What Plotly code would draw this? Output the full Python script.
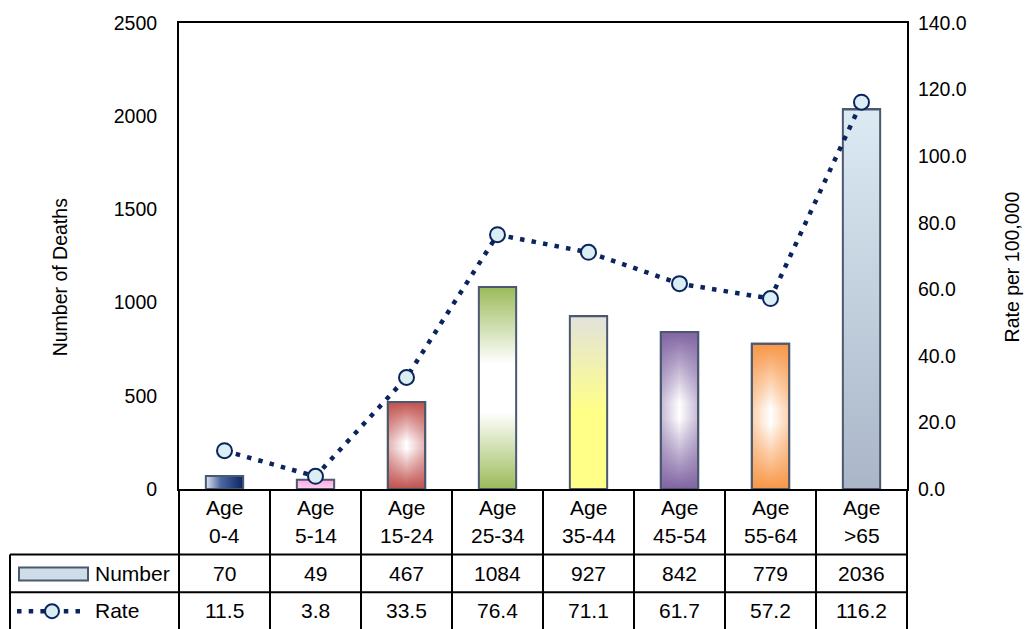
import plotly.graph_objects as go

# ---- data -------------------------------------------------------------
categories = ["Age 0-4", "Age 5-14", "Age 15-24", "Age 25-34",
              "Age 35-44", "Age 45-54", "Age 55-64", "Age >65"]
deaths = [70, 49, 467, 1084, 927, 842, 779, 2036]
rates = [11.5, 3.8, 33.5, 76.4, 71.1, 61.7, 57.2, 116.2]

left_ticks = [0, 500, 1000, 1500, 2000, 2500]
right_ticks = [0, 20, 40, 60, 80, 100, 120, 140]

# ---- styling ----------------------------------------------------------
FONT = "Liberation Sans, Arial, sans-serif"
NAVY = "#0a245e"
OUTLINE = "#4a5870"
BAR_W = 0.41
AXIS_SIZE = 19.5
TABLE_SIZE = 21


def centre_glow(rgb, white_lo=0.44, white_hi=0.56):
    """colour at the ends, white band in the middle"""
    c = "rgb(%d,%d,%d)" % rgb
    return [[0, c], [white_lo, "#ffffff"], [white_hi, "#ffffff"], [1, c]]


def side_tint(rgb, alpha=0.45):
    """translucent tint toward the left and right edges"""
    edge = "rgba(%d,%d,%d,%.2f)" % (rgb + (alpha,))
    clear = "rgba(%d,%d,%d,0)" % rgb
    return [[0, edge], [0.5, clear], [1, edge]]


RED = (192, 80, 77)
GREEN = (155, 187, 89)
PURPLE = (128, 100, 162)
ORANGE = (247, 150, 70)

# one fill per age band: (orientation, colorscale, edge tint or None, flat colour)
bar_fills = [
    ("horizontal", [[0, "#dfe5f1"], [0.4, "#4c67a0"], [1, "#0b2566"]], None, "#1f3b78"),
    ("vertical", [[0, "#ffd2f0"], [1, "#ffa8e2"]], None, "#ffbfea"),
    ("vertical", centre_glow(RED, 0.46, 0.54), side_tint(RED), "#c0504d"),
    ("vertical", centre_glow(GREEN, 0.38, 0.62), None, "#9bbb59"),
    ("vertical", [[0, "#ffff88"], [0.45, "#ffff88"], [1, "#e2e2dc"]], None, "#ffff88"),
    ("vertical", centre_glow(PURPLE, 0.45, 0.55), side_tint(PURPLE), "#8064a2"),
    ("vertical", centre_glow(ORANGE, 0.45, 0.55), side_tint(ORANGE), "#f79646"),
    ("vertical", [[0, "#aab6c8"], [1, "#dbeaf3"]], None, "#c5d3e0"),
]

x_idx = list(range(len(categories)))

fig = go.Figure()

# bars
fig.add_trace(go.Bar(
    x=x_idx, y=deaths, width=BAR_W, name="Number",
    marker=dict(color=[f[3] for f in bar_fills],
                line=dict(color=OUTLINE, width=2)),
    showlegend=False, hoverinfo="skip",
))

# gradient shading laid over each bar, same footprint as the bar
for i, (v, (kind, scale, tint, _)) in enumerate(zip(deaths, bar_fills)):
    h = BAR_W / 2
    xs = [i - h, i - h, i + h, i + h, i - h]
    ys = [0, v, v, 0, 0]
    fig.add_trace(go.Scatter(
        x=xs, y=ys, mode="lines", fill="toself",
        fillgradient=dict(type=kind, colorscale=scale),
        line=dict(color=OUTLINE, width=2),
        showlegend=False, hoverinfo="skip",
    ))
    if tint is not None:
        fig.add_trace(go.Scatter(
            x=xs, y=ys, mode="lines", fill="toself",
            fillgradient=dict(type="horizontal", colorscale=tint),
            line=dict(color=OUTLINE, width=2),
            showlegend=False, hoverinfo="skip",
        ))

# rate line on the secondary axis
fig.add_trace(go.Scatter(
    x=x_idx, y=rates, yaxis="y2", name="Rate",
    mode="lines+markers",
    line=dict(color=NAVY, width=4.5, dash="4.5px,7.2px"),
    marker=dict(symbol="circle", size=15, color="#dbeef4",
                line=dict(color=NAVY, width=2)),
    showlegend=False, hoverinfo="skip",
))

# ---- data table under the plot area -----------------------------------
def py(px):
    """pixel row (from the top of the figure) -> paper y"""
    return (489 - px) / 469


def pxx(px):
    """pixel column -> paper x"""
    return (px - 179) / 728


shapes = []
line_style = dict(color="black", width=2)
n = len(categories)
bottom = py(640)
for k in range(n + 1):
    shapes.append(dict(type="line", xref="paper", yref="paper",
                       x0=k / n, x1=k / n, y0=0, y1=bottom, line=line_style))
shapes.append(dict(type="line", xref="paper", yref="paper",
                   x0=pxx(10), x1=pxx(10), y0=py(555), y1=bottom, line=line_style))
for row_y in (555, 593):
    shapes.append(dict(type="line", xref="paper", yref="paper",
                       x0=pxx(10), x1=1, y0=py(row_y), y1=py(row_y), line=line_style))

# legend keys inside the table
shapes.append(dict(type="rect", xref="paper", yref="paper",
                   x0=pxx(19), x1=pxx(88), y0=py(581), y1=py(568),
                   fillcolor="#cfdde9", line=dict(color=OUTLINE, width=2)))
shapes.append(dict(type="line", xref="paper", yref="paper",
                   x0=pxx(17), x1=pxx(86), y0=py(612), y1=py(612),
                   line=dict(color=NAVY, width=4.5, dash="4.5px,7.2px")))
shapes.append(dict(type="circle", xref="paper", yref="paper",
                   x0=pxx(45), x1=pxx(59), y0=py(619), y1=py(605),
                   fillcolor="#dbeef4", line=dict(color=NAVY, width=2)))

annotations = []
tfont = dict(family=FONT, size=TABLE_SIZE, color="black")
for i, cat in enumerate(categories):
    top, rng = cat.split(" ", 1)
    annotations.append(dict(x=i, xref="x", y=py(508), yref="paper", text=top,
                            showarrow=False, font=tfont, yanchor="middle"))
    annotations.append(dict(x=i, xref="x", y=py(536), yref="paper", text=rng,
                            showarrow=False, font=tfont, yanchor="middle"))
    annotations.append(dict(x=i, xref="x", y=py(574), yref="paper", text=str(deaths[i]),
                            showarrow=False, font=tfont, yanchor="middle"))
    annotations.append(dict(x=i, xref="x", y=py(611), yref="paper", text=f"{rates[i]:.1f}",
                            showarrow=False, font=tfont, yanchor="middle"))
annotations.append(dict(x=pxx(93), xref="paper", y=py(574), yref="paper", text="Number",
                        showarrow=False, font=tfont, xanchor="left", yanchor="middle"))
annotations.append(dict(x=pxx(93), xref="paper", y=py(611), yref="paper", text="Rate",
                        showarrow=False, font=tfont, xanchor="left", yanchor="middle"))

# axis titles
afont = dict(family=FONT, size=AXIS_SIZE, color="black")
annotations.append(dict(x=pxx(60), xref="paper", y=py(276), yref="paper",
                        text="Number of Deaths", textangle=-90, showarrow=False,
                        font=afont, xanchor="center", yanchor="middle"))
annotations.append(dict(x=pxx(1012), xref="paper", y=py(266), yref="paper",
                        text="Rate per 100,000", textangle=-90, showarrow=False,
                        font=afont, xanchor="center", yanchor="middle"))

fig.update_layout(
    width=1026, height=629,
    margin=dict(l=179, r=119, t=20, b=140),
    paper_bgcolor="white", plot_bgcolor="white",
    font=dict(family=FONT, size=AXIS_SIZE, color="black"),
    bargap=0,
    xaxis=dict(range=[-0.5, n - 0.5], showticklabels=False, ticks="",
               showgrid=False, zeroline=False, showline=True,
               linecolor="black", linewidth=2, mirror=True),
    yaxis=dict(range=[0, 2500], tickvals=left_ticks, ticks="",
               showgrid=False, zeroline=False, showline=True,
               linecolor="black", linewidth=2, ticklabelstandoff=16,
               tickfont=dict(family=FONT, size=AXIS_SIZE, color="black")),
    yaxis2=dict(range=[0, 140], tickvals=right_ticks, tickformat=".1f",
                overlaying="y", side="right", ticks="",
                showgrid=False, zeroline=False, showline=True,
                linecolor="black", linewidth=2, ticklabelstandoff=5,
                tickfont=dict(family=FONT, size=AXIS_SIZE, color="black")),
    shapes=shapes,
    annotations=annotations,
    showlegend=False,
)

fig.write_html("out.html")
